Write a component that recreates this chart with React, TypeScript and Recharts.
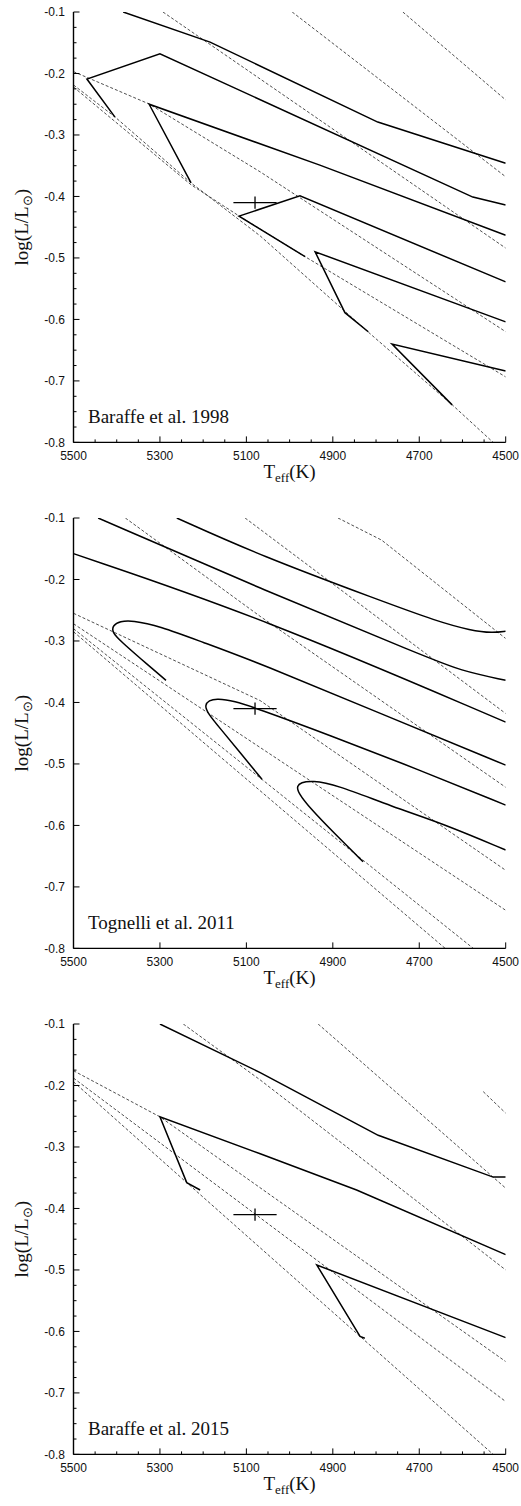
import React from 'react';
import { LineChart, Line, XAxis, YAxis } from 'recharts';

type Pt = [number, number];

const tempTicks = [5500, 5300, 5100, 4900, 4700, 4500];
const tempMinor = [5450, 5400, 5350, 5250, 5200, 5150, 5050, 5000, 4950, 4850, 4800, 4750, 4650, 4600, 4550];
const lumTicks = [-0.8, -0.7, -0.6, -0.5, -0.4, -0.3, -0.2, -0.1];
const lumMinor = [-0.775, -0.75, -0.725, -0.675, -0.65, -0.625, -0.575, -0.55, -0.525, -0.475, -0.45, -0.425,
  -0.375, -0.35, -0.325, -0.275, -0.25, -0.225, -0.175, -0.15, -0.125];

// the star: Teff, log L and their errors
const starTeff = 5080;
const starLogL = -0.41;
const starErrTeff = 50;
const starErrLogL = 0.01;

// Baraffe et al. 1998: mass tracks (solid) and isochrones (dashed)
const b98Track1: Pt[] = [[5385, -0.1], [5184, -0.149], [4796, -0.279], [4500, -0.346]];
const b98Track2: Pt[] = [[5404, -0.271], [5469, -0.209], [5300, -0.168], [4576, -0.401], [4500, -0.414]];
const b98Track3: Pt[] = [[5228, -0.378], [5325, -0.25], [4930, -0.349], [4500, -0.463]];
const b98Track4: Pt[] = [[4964, -0.498], [5117, -0.432], [4976, -0.399], [4500, -0.539]];
const b98Track5: Pt[] = [[4818, -0.62], [4872, -0.589], [4941, -0.49], [4500, -0.604]];
const b98Track6: Pt[] = [[4624, -0.739], [4763, -0.64], [4500, -0.684]];
const b98Iso1: Pt[] = [[4738, -0.1], [4500, -0.243]];
const b98Iso2: Pt[] = [[4994, -0.1], [4500, -0.368]];
const b98Iso3: Pt[] = [[5293, -0.1], [4500, -0.484]];
const b98Iso4: Pt[] = [[5500, -0.197], [5325, -0.2496], [5068, -0.36], [4500, -0.62]];
const b98Iso5: Pt[] = [[5500, -0.222], [5228, -0.381], [5117, -0.4317], [4964, -0.498], [4500, -0.6935]];
const b98Iso6: Pt[] = [[5500, -0.2187], [5404, -0.2707], [5228, -0.378], [5068, -0.4642], [4819, -0.62], [4624, -0.7387], [4529, -0.8]];

// Tognelli et al. 2011
const togTrack1: Pt[] = [[5261, -0.1], [5068, -0.161], [4791, -0.234], [4659, -0.268], [4580, -0.283], [4530, -0.287], [4500, -0.284]];
const togTrack2: Pt[] = [[5443, -0.1], [5068, -0.215], [4683, -0.326], [4606, -0.348], [4500, -0.364]];
const togTrack3: Pt[] = [[5500, -0.158], [5068, -0.261], [4500, -0.432]];
const togTrack4: Pt[] = [[5286, -0.364], [5346, -0.328], [5388, -0.302], [5411, -0.286], [5409, -0.2745], [5392, -0.268],
  [5365, -0.2663], [5300, -0.276], [5207, -0.3005], [5068, -0.3364], [4791, -0.4177], [4500, -0.502]];
const togTrack5: Pt[] = [[5064, -0.525], [5115, -0.481], [5161, -0.442], [5191, -0.416], [5196, -0.4046], [5187, -0.3966],
  [5168, -0.3934], [5127, -0.398], [5080, -0.4086], [4907, -0.4533], [4699, -0.51], [4500, -0.567]];
const togTrack6: Pt[] = [[4830, -0.659], [4895, -0.614], [4953, -0.572], [4981, -0.546], [4983, -0.536], [4974, -0.53],
  [4948, -0.527], [4895, -0.533], [4761, -0.57], [4645, -0.597], [4500, -0.64]];
const togIso1: Pt[] = [[4888, -0.1], [4787, -0.136], [4500, -0.296]];
const togIso2: Pt[] = [[5103, -0.1], [4500, -0.418]];
const togIso3: Pt[] = [[5380, -0.1], [5068, -0.26], [4500, -0.538]];
const togIso4: Pt[] = [[5500, -0.255], [5068, -0.397], [4500, -0.673]];
const togIso5: Pt[] = [[5500, -0.272], [4500, -0.738]];
const togIso6: Pt[] = [[5500, -0.28], [4575, -0.8]];
const togIso7: Pt[] = [[5500, -0.285], [4640, -0.8]];

// Baraffe et al. 2015
const b15Track1: Pt[] = [[5300, -0.1], [5068, -0.179], [4795, -0.281], [4529, -0.349], [4500, -0.349]];
const b15Track2: Pt[] = [[5207, -0.37], [5238, -0.358], [5300, -0.251], [5068, -0.311], [4845, -0.37], [4500, -0.475]];
const b15Track3: Pt[] = [[4826, -0.611], [4837, -0.608], [4937, -0.492], [4500, -0.61]];
const b15Iso1: Pt[] = [[4934, -0.1], [4500, -0.367]];
const b15Iso2: Pt[] = [[4552, -0.21], [4500, -0.245]];
const b15Iso3: Pt[] = [[5246, -0.1], [5068, -0.191], [4500, -0.5]];
const b15Iso4: Pt[] = [[5500, -0.176], [5300, -0.251], [4500, -0.649]];
const b15Iso5: Pt[] = [[5500, -0.188], [4500, -0.714]];
const b15Iso6: Pt[] = [[5500, -0.194], [5238, -0.358], [4529, -0.8]];

const panels = [
  { label: 'Baraffe et al. 1998', minor: true, curve: 'linear',
    tracks: [b98Track1, b98Track2, b98Track3, b98Track4, b98Track5, b98Track6],
    isochrones: [b98Iso1, b98Iso2, b98Iso3, b98Iso4, b98Iso5, b98Iso6] },
  { label: 'Tognelli et al. 2011', minor: false, curve: 'basis',
    tracks: [togTrack1, togTrack2, togTrack3, togTrack4, togTrack5, togTrack6],
    isochrones: [togIso1, togIso2, togIso3, togIso4, togIso5, togIso6, togIso7] },
  { label: 'Baraffe et al. 2015', minor: true, curve: 'linear',
    tracks: [b15Track1, b15Track2, b15Track3],
    isochrones: [b15Iso1, b15Iso2, b15Iso3, b15Iso4, b15Iso5, b15Iso6] },
];

const W = 521;
const H = 506;
const TOP = 12;
const LEFT = 73.5;
const RIGHT = 15.3;
const XAXIS_H = 40;
const BOTTOM = 23.6;
const sans = '"Liberation Sans", Arial, Helvetica, sans-serif';
const serif = '"Liberation Serif", "Times New Roman", serif';
const axisLine = { stroke: '#000', strokeWidth: 1.4 };

const toRows = (pts: Pt[]) => pts.map(([t, l]) => ({ t, l }));
const isMajorT = (v: number) => tempTicks.includes(v);
const isMajorL = (v: number) => lumTicks.some((m) => Math.abs(m - v) < 1e-6);

const BottomTick = (p: any) => {
  const major = isMajorT(p.payload.value);
  return (
    <g>
      <line x1={p.x} x2={p.x} y1={p.y} y2={p.y - (major ? 6 : 3)} stroke="#000" strokeWidth={1} />
      {major && (
        <text x={p.x} y={p.y + 18} textAnchor="middle" fontSize={12} fontFamily={sans} fill="#111">
          {p.payload.value}
        </text>
      )}
    </g>
  );
};
const TopTick = (p: any) => {
  const major = isMajorT(p.payload.value);
  return <line x1={p.x} x2={p.x} y1={p.y} y2={p.y + (major ? 6 : 3)} stroke="#000" strokeWidth={1} />;
};
const LeftTick = (p: any) => {
  const major = isMajorL(p.payload.value);
  return (
    <g>
      <line x1={p.x} x2={p.x + (major ? 6 : 3)} y1={p.y} y2={p.y} stroke="#000" strokeWidth={1} />
      {major && (
        <text x={p.x - 8.5} y={p.y + 4.3} textAnchor="end" fontSize={12} fontFamily={sans} fill="#111">
          {p.payload.value.toFixed(1)}
        </text>
      )}
    </g>
  );
};
const RightTick = (p: any) => {
  const major = isMajorL(p.payload.value);
  return <line x1={p.x} x2={p.x - (major ? 6 : 3)} y1={p.y} y2={p.y} stroke="#000" strokeWidth={1} />;
};

function Panel({ panel }: { panel: (typeof panels)[number] }) {
  const xTicks = panel.minor ? [...tempTicks, ...tempMinor] : tempTicks;
  const yTicks = panel.minor ? [...lumTicks, ...lumMinor] : lumTicks;
  const errT = toRows([[starTeff + starErrTeff, starLogL], [starTeff - starErrTeff, starLogL]]);
  const errL = toRows([[starTeff, starLogL + starErrLogL], [starTeff, starLogL - starErrLogL]]);
  const plotBottom = H - BOTTOM - XAXIS_H;
  const cx = LEFT + (W - LEFT - RIGHT) / 2;
  const cy = TOP + (plotBottom - TOP) / 2;
  return (
    <div style={{ position: 'relative', width: W, height: H }}>
      <LineChart width={W} height={H} margin={{ top: TOP, right: RIGHT, bottom: BOTTOM, left: 0 }}>
        <XAxis xAxisId={0} type="number" dataKey="t" domain={[4500, 5500]} reversed allowDataOverflow
          ticks={xTicks} interval={0} tickSize={0} tickMargin={0} tick={BottomTick} height={XAXIS_H} axisLine={axisLine} />
        <XAxis xAxisId="top" orientation="top" type="number" dataKey="t" domain={[4500, 5500]} reversed allowDataOverflow
          ticks={xTicks} interval={0} tickSize={0} tickMargin={0} tick={TopTick} height={0} axisLine={axisLine} />
        <YAxis yAxisId={0} type="number" domain={[-0.8, -0.1]} allowDataOverflow
          ticks={yTicks} interval={0} tickSize={0} tickMargin={0} tick={LeftTick} width={LEFT} axisLine={axisLine} />
        <YAxis yAxisId="right" orientation="right" type="number" domain={[-0.8, -0.1]} allowDataOverflow
          ticks={yTicks} interval={0} tickSize={0} tickMargin={0} tick={RightTick} width={0} axisLine={axisLine} />
        {panel.isochrones.map((iso, i) => (
          <Line key={'iso' + i} data={toRows(iso)} dataKey="l" type="linear" dot={false}
            stroke="#222" strokeWidth={0.8} strokeDasharray="3 2" isAnimationActive={false} />
        ))}
        {panel.tracks.map((tr, i) => (
          <Line key={'tr' + i} data={toRows(tr)} dataKey="l" type={panel.curve as any} dot={false}
            stroke="#000" strokeWidth={1.5} isAnimationActive={false} />
        ))}
        <Line xAxisId="top" yAxisId="right" data={errT} dataKey="l" dot={false} stroke="#000" strokeWidth={1.3} isAnimationActive={false} />
        <Line xAxisId="top" yAxisId="right" data={errL} dataKey="l" dot={false} stroke="#000" strokeWidth={1.3} isAnimationActive={false} />
      </LineChart>
      <svg width={W} height={H} style={{ position: 'absolute', left: 0, top: 0, pointerEvents: 'none' }}>
        <text x={88} y={plotBottom - 19} fontSize={19} fontFamily={serif} fill="#111">{panel.label}</text>
        <text x={cx} y={plotBottom + 36} textAnchor="middle" fontSize={19} fontFamily={serif} fill="#111">
          T<tspan fontSize={13} dy={4}>eff</tspan><tspan dy={-4}>(K)</tspan>
        </text>
        <text transform={`translate(28,${cy}) rotate(-90)`} textAnchor="middle" fontSize={19} fontFamily={serif} fill="#111">
          log(L/L<tspan fontSize={13} dy={4}>⊙</tspan><tspan dy={-4}>)</tspan>
        </text>
      </svg>
    </div>
  );
}

export default function App() {
  return (
    <div style={{ position: 'absolute', left: 0, top: 0, width: W, height: 1506, overflow: 'hidden', background: '#fff' }}>
      {panels.map((p) => (
        <Panel key={p.label} panel={p} />
      ))}
    </div>
  );
}
